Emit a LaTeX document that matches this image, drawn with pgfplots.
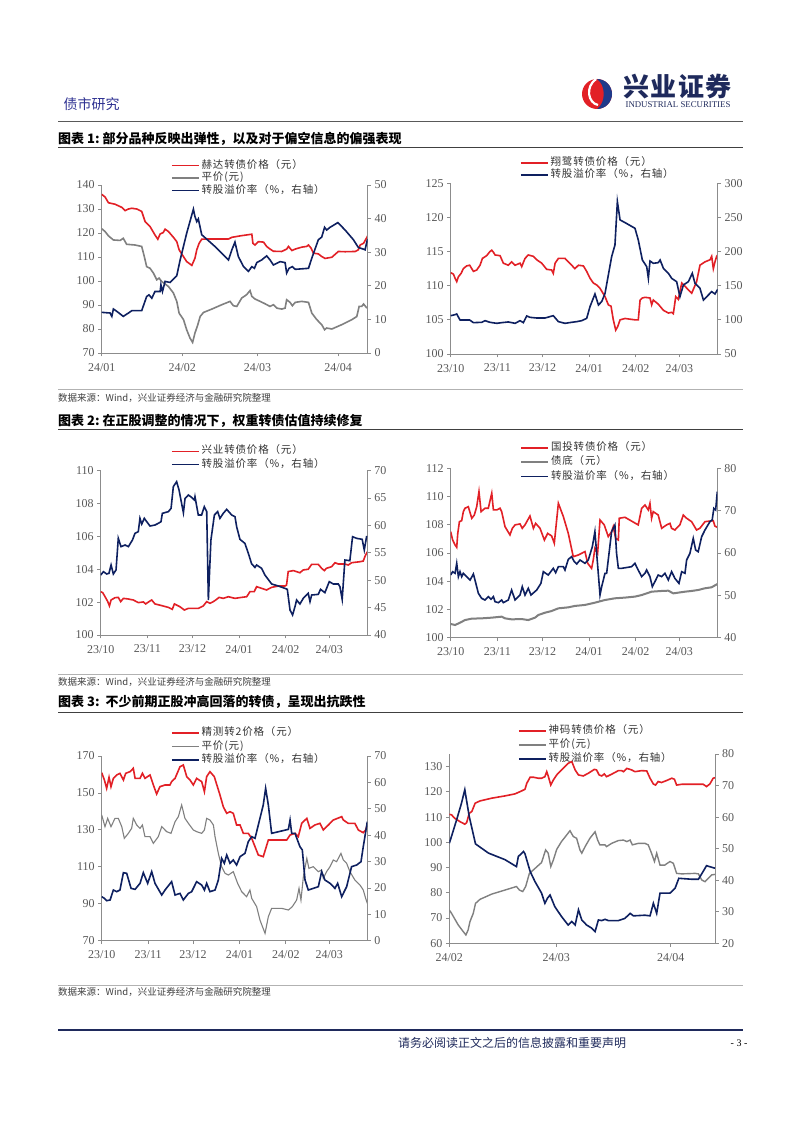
\documentclass[border=0pt]{standalone}
\usepackage{fontspec}
\setmainfont{Liberation Serif}
\newfontfamily\cjk{Noto Sans CJK SC}
\newfontfamily\cjkleg{Noto Sans CJK SC}[LetterSpace=8]
\usepackage{pgfplots}
\pgfplotsset{compat=1.18}
\definecolor{myred}{HTML}{E22026}
\definecolor{mynavy}{HTML}{0E2060}
\definecolor{mygray}{HTML}{808080}
\definecolor{axgray}{HTML}{8C8C8C}
\definecolor{ticktext}{HTML}{595959}
\definecolor{legtext}{HTML}{333333}
\definecolor{hdrblue}{HTML}{2E3192}
\definecolor{logoblue}{HTML}{1F3A8A}
\definecolor{footnavy}{HTML}{1F2A5C}

\tikzset{
  redl/.style={draw=myred, line width=1.6pt},
  navyl/.style={draw=mynavy, line width=1.6pt},
  grayl/.style={draw=mygray, line width=#1},
}
\pgfplotsset{
  legend image code/.code={\draw[#1] (0pt,0pt) -- (27pt,0pt);},
  chart/.style={
    scale only axis,
    axis line style={draw=axgray, line width=0.8pt},
    tick style={draw=axgray, line width=0.8pt},
    major tick length=3.5pt, tick align=outside,
    tick label style={font=\fontsize{12}{13}\selectfont, text=ticktext},
    xticklabel style={yshift=-3pt},
    /pgf/number format/assume math mode=true,
  },
  leftax/.style={chart, axis y line*=left, axis x line*=bottom},
  rightax/.style={chart, axis y line*=right, axis x line=none},
  leg/.style 2 args={legend cell align=left,
    legend style={at={#1}, anchor=north west, draw=none, fill=none,
      inner sep=0pt, outer sep=0pt,
      font=\cjkleg\fontsize{10.5}{12}\selectfont, text=legtext,
      nodes={inner xsep=2pt, inner ysep=#2, text height=7.5pt, text depth=2.5pt}}},
}

\begin{document}
\begin{tikzpicture}[x=1pt,y=1pt]
\fill[white] (0,0) rectangle (802,1133);
\path[use as bounding box] (0,0) rectangle (802,1133);

% ---------- header ----------
\node[inner sep=0, text=hdrblue] at (91.5,1029) {\cjk\fontsize{14}{14}\selectfont 债市研究};
\fill[myred] (597,1039) circle (15);
\fill[logoblue] (597,1054) arc (90:-90:15) .. controls (606,1030) and (606,1048) .. cycle;
\draw[white, line width=2.2pt] (596,1054) .. controls (585,1046) and (588,1030) .. (598,1028);
\node[inner sep=0, text=footnavy] at (677.5,1046.5) {\cjk\bfseries\fontsize{26}{26}\selectfont\addfontfeature{LetterSpace=4}兴业证券};
\node[inner sep=0, text=footnavy] at (678,1028.5) {\fontsize{8.8}{8.8}\selectfont INDUSTRIAL SECURITIES};
\draw[black!65, line width=0.9pt] (58,1012) -- (743,1012);

% ---------- titles and sources ----------
\node[anchor=west, inner sep=0] at (58,994) {\cjk\bfseries\fontsize{13}{13}\selectfont 图表 1:\ 部分品种反映出弹性，以及对于偏空信息的偏强表现};
\draw[black!75, line width=1pt] (58,985) -- (743,985);
\draw[black!30, line width=0.6pt] (58,744) -- (743,744);
\node[anchor=west, inner sep=0, text=black!75] at (58,735) {\cjk\fontsize{9.5}{9.5}\selectfont 数据来源：Wind，兴业证券经济与金融研究院整理};
\node[anchor=west, inner sep=0] at (58,712) {\cjk\bfseries\fontsize{13}{13}\selectfont 图表 2:\ 在正股调整的情况下，权重转债估值持续修复};
\draw[black!75, line width=1pt] (58,703) -- (743,703);
\draw[black!30, line width=0.6pt] (58,459) -- (743,459);
\node[anchor=west, inner sep=0, text=black!75] at (58,451) {\cjk\fontsize{9.5}{9.5}\selectfont 数据来源：Wind，兴业证券经济与金融研究院整理};
\node[anchor=west, inner sep=0] at (58,431) {\cjk\bfseries\fontsize{13}{13}\selectfont 图表 3:\ \ 不少前期正股冲高回落的转债，呈现出抗跌性};
\draw[black!75, line width=1pt] (58,420) -- (743,420);
\draw[black!30, line width=0.6pt] (58,148) -- (743,148);
\node[anchor=west, inner sep=0, text=black!75] at (58,141) {\cjk\fontsize{9.5}{9.5}\selectfont 数据来源：Wind，兴业证券经济与金融研究院整理};

% ---------- footer ----------
\draw[footnavy, line width=2pt] (58,103) -- (743,103);
\node[inner sep=0, text=footnavy] at (512,90) {\cjk\fontsize{12}{12}\selectfont 请务必阅读正文之后的信息披露和重要声明};
\node[inner sep=0] at (739,90) {\fontsize{10}{10}\selectfont - 3 -};

% ================= Chart 1 left =================
\begin{axis}[leftax, at={(101.7pt,780pt)}, anchor=south west, width=266pt, height=168pt,
  xmin=0, xmax=102.4, ymin=70, ymax=140, ytick={70,80,...,140},
  xtick={0,31,60,91}, xticklabels={24/01,24/02,24/03,24/04},
  leg={(0.2605,1.153)}{1.25pt}]
\addplot[redl] table {
0 136.1
1.3 135
2.6 132.6
5.1 132
7.7 130.7
9.0 129.3
10.3 130
11.6 130.3
13.5 130
15.4 129
16.7 124.8
18.6 122.7
20.5 119.2
21.6 117.4
22.5 119.6
23.7 120.2
24.4 121.6
25.7 120.6
27.6 118.2
28.9 116.4
29.8 113
30.8 111.3
32.7 108.1
34.7 106.5
35.9 109.5
36.6 113
37.5 115.7
38.5 117.4
41.1 117.5
48.8 117.5
50.1 118.2
53.9 118.9
57.8 119.5
58.2 115.7
59.0 115
60.3 116.4
62.3 116.2
63.5 114.4
64.8 113.3
66.1 112.4
69.3 112.3
71.2 113.3
71.9 114.4
73.2 112.7
74.5 113.3
77.0 114.1
78.9 114.4
79.6 115
80.6 113.7
81.5 111.6
83.4 111.3
84.7 110.2
86.0 109.4
88.6 109.9
91.1 112.3
93.7 112.2
97.6 112.3
98.8 113
99.5 115
100.8 115.7
102.1 118.2
102.4 118.8
};
\addlegendentry{赫达转债价格（元）}
\addplot[grayl=1.6pt] table {
0 121.8
1.3 120.6
2.6 118.8
4.5 117.1
7.1 116.9
8.3 117.8
9.6 115.3
12.8 115
15.4 114.4
16.4 110.2
17.3 106
18.6 105.3
19.9 103.3
21.2 100.5
22.1 101.2
23.1 99.8
25.7 97.7
27.6 95
28.9 91.5
29.8 86.6
31.5 83.9
32.7 79.7
34.0 76.2
35.0 74.4
35.9 78.3
37.0 81.8
37.9 85.2
39.2 86.9
42.4 88.3
46.2 90.1
49.4 91.5
50.7 89.7
52.0 89.4
53.9 92.9
55.8 94.3
57.1 96
57.8 93.6
59.0 92.5
61.0 91.5
62.9 90.5
64.8 89.4
66.1 90.1
67.4 88.7
69.3 88.3
70.6 88.7
71.2 92.2
72.5 91.1
73.4 89.7
74.5 91.1
77.0 91.5
79.6 91.1
80.9 86.6
82.8 83.9
84.7 81.8
85.8 79.7
86.6 80.4
88.6 80
92.4 81.8
96.3 83.9
98.2 85.2
99.1 89.4
100.1 89.4
100.8 90.4
102.1 88.7
};
\addlegendentry{平价(元)}
\addlegendimage{navyl}
\addlegendentry{转股溢价率（\%，右轴）}
\end{axis}
\begin{axis}[rightax, at={(101.7pt,780pt)}, anchor=south west, width=266pt, height=168pt,
  xmin=0, xmax=102.4, ymin=0, ymax=50, ytick={0,10,...,50}]
\addplot[navyl] table {
0 12.1
3.2 11.9
3.9 10.9
4.5 13.1
5.8 12.4
8.3 10.9
10.3 11.9
11.6 12.6
15.4 12.6
17.3 16.8
18.2 17.3
19.3 16.3
20.5 18.3
22.5 18.3
22.8 20.3
23.4 18.3
24.4 21.3
26.3 21
28.9 23
30.2 27.7
32.7 35.6
35.3 42.8
35.9 40.6
36.6 39.1
37.2 39.9
38.5 35.2
43.6 31.7
48.8 27.7
50.1 30.7
51.3 33
52.6 28.7
54.6 25.7
56.5 24.3
57.8 25.7
58.8 25.2
59.7 26.9
61.6 27.7
63.5 28.9
64.8 27.7
66.1 26.2
67.4 26.7
68.7 27.2
70.6 26.9
71.2 23.8
72.1 25.2
73.4 25.7
74.5 24.9
79.6 25.2
81.1 28.7
83.4 33.7
84.7 34.5
85.8 37.4
86.6 36.6
87.9 37.4
90.9 38.8
93.7 36.6
96.9 33.7
98.8 31.4
100.8 30.9
101.4 30.7
102.1 33.2
102.4 33.9
};
\end{axis}

% ================= Chart 1 right =================
\begin{axis}[leftax, at={(450.7pt,779pt)}, anchor=south west, width=267pt, height=170.7pt,
  xmin=0, xmax=177.5, ymin=100, ymax=125, ytick={100,105,...,125},
  xtick={0,31,61,92,123,152}, xticklabels={23/10,23/11,23/12,24/01,24/02,24/03},
  leg={(0.2596,1.153)}{1.0pt}]
\addplot[redl] table {
0 111.9
1.8 111.7
2.9 111.1
4.0 110.6
5.1 111.3
6.9 111.8
8.4 112.5
10.6 112.9
12.6 113
14.0 112.5
15.1 112.1
17.3 112.3
19.5 113
21.1 114
23.9 114.4
26.1 115
27.3 115.2
28.4 114.9
29.5 114.5
32.8 114.4
35.0 113.3
38.3 113
40.5 113.5
42.8 113
46.1 113.3
47.2 112.8
49.4 114
51.6 114.5
55.0 114.3
57.2 113.8
60.5 113.3
63.8 112.4
67.1 112.3
68.2 111.8
69.4 113.3
71.6 114
76.0 114
78.2 113.5
80.4 113
82.6 112.5
84.9 113
88.2 112.9
90.4 112.1
92.6 111.1
94.8 110.4
97.1 110.1
99.3 109.6
102.6 108.4
104.8 107.2
106.6 107
108.1 105
109.7 103.5
111.0 104
112.6 105
115.9 105.2
122.5 105
124.7 105
125.9 107.9
127.4 108.2
129.2 108.3
132.5 108.2
133.6 107.2
134.7 107.9
138.0 107.3
141.4 106.4
144.7 106
146.9 106.1
148.0 105.9
149.6 108.4
151.3 108
153.6 110.4
155.8 109.9
158.0 109.4
160.2 108.9
163.5 110.6
165.7 113
169.1 113.5
172.4 113.8
173.5 114.3
174.6 112.5
175.7 113.5
176.8 114.3
177.5 114.5
};
\addlegendentry{翔鹭转债价格（元）}
\addlegendimage{navyl}
\addlegendentry{转股溢价率（\%，右轴）}
\end{axis}
\begin{axis}[rightax, at={(450.7pt,779pt)}, anchor=south west, width=267pt, height=170.7pt,
  xmin=0, xmax=177.5, ymin=50, ymax=300, ytick={50,100,...,300}]
\addplot[navyl] table {
0 106.1
2.9 107.6
4.0 108.6
6.2 99.8
12.6 99.8
15.1 95.9
20.6 96.4
22.8 98.8
26.1 96.4
30.6 94.9
33.9 95.9
38.3 96.9
42.8 94.9
46.1 98.8
48.3 95.9
50.5 105.7
52.7 103.7
57.2 102.7
62.7 102.7
68.2 106.1
71.6 97.4
76.0 94.9
80.4 96.4
83.8 97.4
87.1 98.8
90.4 102.2
92.6 119.3
95.9 137.9
98.2 121.8
100.4 126.7
102.6 138.9
104.8 165.7
107.0 192.6
109.2 209.7
110.8 273.1
112.6 246.3
115.9 242.4
122.5 234.1
124.7 217
127.4 187.7
130.3 177.9
131.4 160.8
132.5 186.2
134.7 182.8
138.0 183.8
139.2 187.7
141.4 175.5
144.7 168.2
146.9 160.8
150.2 155.9
152.4 134
154.7 151.1
158.0 155.9
160.6 168.2
162.4 153.5
165.7 146.2
168.0 129.1
171.3 136.4
173.5 141.3
175.7 137.9
177.5 144.7
};
\end{axis}

% ================= Chart 2 left =================
\begin{axis}[leftax, at={(100.7pt,498pt)}, anchor=south west, width=266.6pt, height=164.3pt,
  xmin=0, xmax=177.3, ymin=100, ymax=110, ytick={100,102,...,110},
  xtick={0,31,61,92,123,152}, xticklabels={23/10,23/11,23/12,24/01,24/02,24/03},
  leg={(0.2637,1.158)}{1.6pt}]
\addplot[redl] table {
0 102.64
1.3 102.58
2.9 102.33
4.7 102.03
5.8 101.77
6.9 102.13
9.5 102.27
11.7 102.29
13.3 102.03
15.1 102.23
18.4 102.19
21.7 102.13
25.0 101.97
28.4 102.01
29.9 101.89
32.8 102.07
33.9 102.13
36.1 101.89
40.5 101.79
45.0 101.68
47.6 101.56
49.0 101.89
52.7 101.72
55.6 101.52
58.3 101.62
64.9 101.62
68.2 101.77
70.5 102.03
72.7 101.93
74.9 102.03
77.1 102.17
78.7 102.29
81.5 102.23
84.9 102.33
89.3 102.23
93.7 102.29
97.1 102.33
99.3 102.64
102.1 102.64
103.7 102.94
107.0 102.84
110.3 102.74
113.7 102.90
118.1 102.98
122.5 102.98
123.6 103.04
124.7 103.86
128.1 103.92
132.5 103.79
134.7 103.96
138.0 104.00
140.3 104.30
144.7 104.30
146.9 104.06
148.7 103.92
150.2 104.06
153.6 104.16
155.8 104.40
158.0 104.32
162.4 104.32
164.6 104.26
166.9 104.40
172.4 104.46
174.6 104.50
175.7 104.77
177.3 105.07
};
\addlegendentry{兴业转债价格（元）}
\addlegendimage{navyl}
\addlegendentry{转股溢价率（\%，右轴）}
\end{axis}
\begin{axis}[rightax, at={(100.7pt,498pt)}, anchor=south west, width=266.6pt, height=164.3pt,
  xmin=0, xmax=177.3, ymin=40, ymax=70, ytick={40,45,...,70}]
\addplot[navyl] table {
0 50.95
1.8 51.56
4.0 51.14
5.5 51.26
6.9 52.78
8.4 51.14
10.2 51.87
11.7 57.65
13.5 56.13
16.2 56.43
18.4 56.13
21.1 57.34
22.8 58.56
25.0 58.86
26.1 61.3
27.3 60.26
29.0 61.3
30.6 60.69
32.8 59.9
36.1 60.08
38.3 60.39
40.1 60.69
41.0 62.21
45.0 62.52
46.8 63.12
48.3 67.08
50.5 67.99
52.1 66.47
53.8 64.04
55.0 62.33
56.1 64.95
58.3 65.56
60.5 65.13
62.3 64.65
62.7 65.25
64.9 61.91
67.1 61.91
68.9 63.43
70.5 62.52
71.6 46.39
73.3 57.34
75.6 61.91
77.8 62.52
79.3 61.3
81.5 62.21
83.8 62.94
87.1 61.91
89.3 61.6
90.4 59.78
92.6 57.47
95.9 56.73
98.2 54.91
100.4 52.96
102.6 52.35
103.7 52.78
107.0 52.17
109.2 50.95
113.7 49.31
118.1 48.95
122.5 48.52
124.1 48.34
125.9 44.56
127.6 43.65
129.2 45.17
130.3 46.39
132.5 45.66
134.7 46.69
138.0 47.61
139.2 46.09
140.3 47.3
144.7 47.42
146.2 48.34
149.1 47.73
152.0 49.74
154.7 49.31
158.0 49.31
159.1 48.82
160.6 46.51
162.4 53.69
165.7 53.57
167.5 57.95
170.2 57.65
173.9 57.47
175.3 55.52
176.8 57.95
177.3 57.95
};
\end{axis}

% ================= Chart 2 right =================
\begin{axis}[leftax, at={(450.7pt,495.3pt)}, anchor=south west, width=266.6pt, height=169.4pt,
  xmin=0, xmax=177.3, ymin=100, ymax=112, ytick={100,102,...,112},
  xtick={0,31,61,92,123,152}, xticklabels={23/10,23/11,23/12,24/01,24/02,24/03},
  leg={(0.26,1.16)}{2.1pt}]
\addplot[redl] table {
0 107.51
1.3 106.92
2.9 106.57
4.0 106.40
4.7 107.39
5.8 108.22
7.3 108.29
8.4 108.93
9.5 109.17
11.7 109.28
14.0 108.46
15.7 108.69
17.3 109.28
18.8 110.35
20.2 108.93
22.8 109.17
25.0 109.17
27.3 110.23
28.4 109.05
30.6 109.05
32.8 109.17
33.9 108.93
36.1 107.87
39.4 107.28
41.0 107.75
42.8 107.99
46.1 108.06
47.6 107.75
49.4 107.99
52.7 108.62
55.0 107.75
56.5 108.10
59.4 107.75
62.3 106.92
64.5 107.39
67.1 107.21
68.9 106.69
71.6 109.52
74.9 108.58
78.2 107.39
81.5 105.74
84.9 105.86
89.3 106.10
91.1 105.27
93.7 104.91
94.8 105.50
95.9 106.33
97.7 105.98
99.3 108.34
102.1 107.99
104.8 107.16
107.0 107.51
108.1 107.87
109.7 107.04
111.5 106.92
112.1 108.46
115.9 108.53
124.7 107.99
127.0 109.17
129.2 109.40
131.4 109.05
132.5 109.52
133.6 108.46
134.7 108.93
138.0 108.69
140.3 107.75
143.6 107.99
145.8 108.10
146.9 107.75
149.1 107.63
152.4 107.99
154.7 108.69
156.9 108.46
160.2 108.22
163.5 107.63
165.7 107.75
169.1 108.22
174.6 108.29
175.7 107.91
177.3 107.82
};
\addlegendentry{国投转债价格（元）}
\addplot[grayl=2pt] table {
0 100.97
2.9 100.90
6.2 101.06
9.5 101.25
14.0 101.35
20.6 101.37
27.3 101.42
33.9 101.49
36.1 101.37
40.5 101.30
47.2 101.32
51.6 101.25
56.1 101.42
58.3 101.61
62.7 101.77
67.1 101.89
71.6 102.08
78.2 102.15
82.6 102.25
89.3 102.32
95.9 102.48
102.6 102.67
109.2 102.79
115.9 102.84
122.5 102.91
127.0 103.02
133.6 103.26
140.3 103.31
144.7 103.33
148.0 103.14
151.3 103.19
155.8 103.26
160.2 103.31
164.6 103.38
169.1 103.50
173.5 103.57
177.3 103.80
};
\addlegendentry{债底（元）}
\addlegendimage{navyl}
\addlegendentry{转股溢价率（\%，右轴）}
\end{axis}
\begin{axis}[rightax, at={(450.7pt,495.3pt)}, anchor=south west, width=266.6pt, height=169.4pt,
  xmin=0, xmax=177.3, ymin=40, ymax=80, ytick={40,50,...,80}]
\addplot[navyl] table {
0 54.8
1.3 55.59
2.9 55.2
4.0 57.56
5.1 54.41
6.2 55.59
7.3 54.41
8.4 55.2
10.6 54.41
12.9 53.62
15.1 55.04
16.6 52.99
18.4 50.47
20.6 49.29
22.8 48.9
25.0 49.69
26.8 49.06
28.4 49.69
29.5 48.5
31.7 48.27
33.9 48.9
35.0 48.27
38.3 48.9
40.5 51.26
42.8 48.9
46.1 50.08
47.6 52.05
49.4 50.08
51.6 51.65
53.4 50.08
57.2 51.26
60.0 52.83
61.6 55.59
64.9 54.8
68.2 56.38
69.8 55.35
71.6 56.77
74.9 56.77
76.0 55.98
78.2 58.5
80.4 59.13
82.2 57.95
83.8 57.4
86.0 58.35
89.3 57.56
91.5 58.35
94.2 61.5
95.9 65.04
97.7 57.17
99.3 50.08
100.4 52.05
102.6 55.2
103.7 55.2
105.3 59.92
107.0 65.04
109.2 66.61
110.3 59.92
111.5 56.38
113.7 56.38
120.3 56.77
122.5 57.56
124.7 55.98
127.0 54.41
129.2 55.2
130.3 55.98
132.5 54.41
134.1 52.05
135.8 53.23
138.0 54.8
140.3 54.41
142.5 55.2
144.7 53.62
146.9 55.59
149.1 54.01
151.8 52.83
153.6 55.59
155.8 55.2
156.9 58.35
159.1 59.92
161.3 63.46
162.9 60.71
164.6 60.31
166.9 63.86
169.1 65.43
172.4 67.4
173.9 67.8
175.0 70.55
176.2 70.16
177.3 74.49
};
\end{axis}

% ================= Chart 3 left =================
\begin{axis}[leftax, at={(101.7pt,192.3pt)}, anchor=south west, width=265.6pt, height=184.7pt,
  xmin=0, xmax=177.4, ymin=70, ymax=170, ytick={70,90,...,170},
  xtick={0,31,61,92,123,152}, xticklabels={23/10,23/11,23/12,24/01,24/02,24/03},
  leg={(0.261,1.16)}{1.75pt}]
\addplot[redl] table {
0 160.97
1.8 157
3.3 152.49
4.9 158.45
6.2 153.39
7.8 157.91
10.0 159.71
12.2 160.61
14.5 157
16.0 160.61
18.9 161.52
21.1 163.32
22.3 157.91
25.6 157.91
27.2 160.61
28.9 157.91
32.3 159.71
34.5 154.30
36.7 149.42
38.9 153.39
42.3 154.30
45.6 154.30
46.7 156.10
49.0 157.91
52.3 164.22
54.5 165.13
56.8 158.81
59.0 157
61.2 154.30
63.4 157.91
66.8 156.10
68.6 150.69
70.1 158.81
72.3 161.52
75.2 158.81
79.0 148.88
81.2 142.56
83.5 138.95
85.7 139.86
87.9 138.95
90.1 132.64
92.4 132.64
94.6 128.12
97.9 128.12
100.2 125.42
102.4 120.90
104.6 116.39
107.9 115.49
111.3 124.51
115.7 124.51
123.6 124.51
125.8 127.22
129.1 128.12
131.3 126.32
133.6 133.54
137.0 136.25
139.1 130.83
142.4 132.64
145.8 133.54
148.0 129.93
151.4 132.64
154.7 135.34
160.3 137.15
161.4 135.34
164.7 133.54
169.1 133.54
171.4 129.93
174.7 128.48
176.3 129.93
177.4 132.64
};
\addlegendentry{精测转2价格（元）}
\addplot[grayl=1.1pt] table {
0 138.05
2.2 131.73
4.0 136.25
6.2 131.73
8.9 136.25
11.1 136.25
13.4 131.73
15.1 125.42
17.8 128.12
20.0 130.83
21.1 136.25
23.4 132.64
25.6 130.83
27.2 132.64
28.9 126.32
32.3 126.32
34.5 122.71
37.8 126.32
40.1 131.73
43.4 129.03
46.3 128.12
49.0 134.44
51.2 137.15
53.4 143.47
55.6 136.25
57.9 133.54
61.2 129.93
63.4 129.03
66.8 128.12
68.6 129.93
70.1 136.25
72.3 135.34
74.6 132.64
75.7 126.32
77.9 117.29
80.1 110.07
82.4 106.46
84.6 105.56
87.9 107.36
90.8 101.05
93.5 96.54
96.8 93.83
99.0 97.44
100.2 92.93
103.5 88.41
105.7 81.19
109.1 73.97
111.3 83
113.5 87.51
120.2 87.51
124.7 86.61
127.3 88.41
130.2 92.02
131.8 98.34
133.1 92.02
134.7 104.66
137.0 114.59
138.4 109.17
141.3 110.07
144.7 107.36
146.9 108.27
148.0 103.76
150.2 107.36
152.5 110.07
154.7 113.68
156.9 112.78
159.8 117.29
161.4 113.68
163.6 111.88
165.8 107.36
169.1 102.85
172.5 100.15
174.7 97.44
176.3 92.93
177.4 90.22
};
\addlegendentry{平价(元)}
\addlegendimage{navyl}
\addlegendentry{转股溢价率（\%，右轴）}
\end{axis}
\begin{axis}[rightax, at={(101.7pt,192.3pt)}, anchor=south west, width=265.6pt, height=184.7pt,
  xmin=0, xmax=177.4, ymin=0, ymax=70, ytick={0,10,...,70}]
\addplot[navyl] table {
0 16.68
1.8 16.05
3.3 15.16
5.6 15.42
7.8 19.21
10.0 18.58
12.2 19.21
14.5 25.78
16.7 25.53
19.6 19.84
22.3 19.46
25.6 21.74
27.8 25.78
30.7 21.74
33.4 26.16
35.6 21.74
40.1 17.31
42.3 19.21
46.7 22.37
49.0 17.31
52.3 17.94
54.5 15.42
57.9 17.94
60.1 18.58
63.4 22.37
66.8 21.1
68.6 19.21
70.1 21.74
72.3 18.58
75.7 19.21
77.9 23
80.1 31.21
81.9 29.32
83.5 32.47
85.7 29.32
87.9 30.58
90.1 28.68
92.4 31.84
95.7 33.11
97.9 37.53
100.2 39.42
102.4 38.79
104.6 43.85
107.9 51.43
109.5 57.74
111.3 51.43
113.5 40.69
124.7 42.2
125.8 45.74
126.9 40.69
129.1 40.69
132.4 35.63
134.0 34.37
135.8 23
138.0 19.21
141.3 19.84
144.7 20.47
146.9 26.16
149.1 23
152.5 21.74
155.8 19.84
157.6 21.74
160.3 16.68
163.6 20.47
166.9 28.05
170.3 28.68
173.2 29.95
174.7 35.63
175.8 39.42
177.4 45.11
};
\end{axis}

% ================= Chart 3 right =================
\begin{axis}[leftax, at={(449.3pt,189.7pt)}, anchor=south west, width=265.7pt, height=189.3pt,
  xmin=0, xmax=72, ymin=60, ymax=135, ytick={60,70,...,130},
  xtick={0,29,60}, xticklabels={24/02,24/03,24/04},
  leg={(0.2586,1.16)}{2.1pt}]
\addplot[redl] table {
0 111.1
0.6 110.9
1.5 109.5
2.9 108.2
4.2 107.2
4.7 107.8
5.4 111.5
6.1 112.2
7.0 115.5
8.3 116.4
11.5 117.5
15.1 118.4
17.8 119.2
19.2 120.1
20.5 121
21.0 123.4
21.9 125.8
22.8 125.8
24.1 125.4
25.0 125.4
25.9 126
26.4 128
26.8 126.3
27.5 122.7
28.2 124.7
29.1 126.7
30.4 128.7
32.2 131.3
33.2 132
34.1 128.7
35.0 126.7
36.3 126.3
37.7 127.4
39.3 128.9
39.9 128.7
40.6 126.7
41.3 126.3
42.0 127.1
42.6 126
44.0 127
45.8 128.4
46.7 128.4
47.2 128
48.1 129.3
49.4 128.7
50.3 128
52.1 128.4
53.5 128.3
54.4 125.4
55.3 123.1
55.9 122.7
56.6 124.1
57.5 123.7
58.9 124.5
60.3 125.4
61.0 125
61.6 122.7
63.0 123
66.6 123
68.8 123
69.7 122.1
70.6 123.1
71.5 125.4
72.0 125.6
};
\addlegendentry{神码转债价格（元）}
\addplot[grayl=1.4pt] table {
0 73.2
0.6 71.9
2.4 67.3
3.8 64.6
4.5 63.3
5.1 65.3
5.6 68.6
6.5 71.9
7.1 75.8
8.3 77.4
11.5 79.5
15.1 81.1
18.2 82.5
19.0 81.1
19.9 80.5
20.7 82.5
21.7 87.7
22.8 89.1
25.0 92
26.1 97
26.8 95.7
27.5 90.4
28.2 93
29.1 97.2
30.4 100.3
31.8 102.9
32.7 104.6
33.6 102.3
34.5 101.6
35.4 97
35.9 95.7
36.8 98.3
38.1 101.6
39.5 104.2
40.2 100.9
40.8 99
42.2 99
42.6 98.3
44.0 99.6
45.8 100.7
47.2 100.9
48.1 100.3
49.0 100.9
49.6 99
51.2 99.6
53.0 99.6
53.9 99
54.8 95.7
55.6 92.4
56.2 95.7
57.1 91
58.4 91
59.8 92.4
60.7 91.7
61.6 87.7
63.0 87.5
66.6 87.7
67.5 87.5
68.4 85.1
69.3 84.4
70.2 85.8
71.1 87.1
72.0 87.3
};
\addlegendentry{平价(元)}
\addlegendimage{navyl}
\addlegendentry{转股溢价率（\%，右轴）}
\end{axis}
\begin{axis}[rightax, at={(449.3pt,189.7pt)}, anchor=south west, width=265.7pt, height=189.3pt,
  xmin=0, xmax=72, ymin=20, ymax=80, ytick={20,30,...,80}]
\addplot[navyl] table {
0 51.7
0.6 53.9
2.0 59.2
3.3 64.4
4.2 68.7
5.4 60.2
7.1 51.5
10.6 48.6
15.1 46.5
18.2 44.3
18.7 47.5
20.1 49.1
20.5 48.4
21.9 42.8
23.2 39.6
25.0 35.9
25.9 32.7
26.6 34.3
27.3 35.3
28.6 31.6
30.4 28.5
32.2 25.8
33.2 26.9
34.1 25.8
35.0 30.6
35.9 27.4
37.2 25.8
38.6 24.8
39.5 23.7
40.4 27.4
41.3 27.2
42.2 27.6
43.1 27.2
45.8 27.2
47.6 27.9
49.0 29.5
49.9 28.7
53.0 28.9
54.4 28.7
55.3 32.7
56.2 29.5
57.1 35.9
59.8 35.9
61.2 37.5
62.2 40.6
65.7 40.3
67.5 40.3
68.8 42.8
69.7 44.6
71.1 44.1
72.0 43.8
};
\end{axis}
\end{tikzpicture}
\end{document}
